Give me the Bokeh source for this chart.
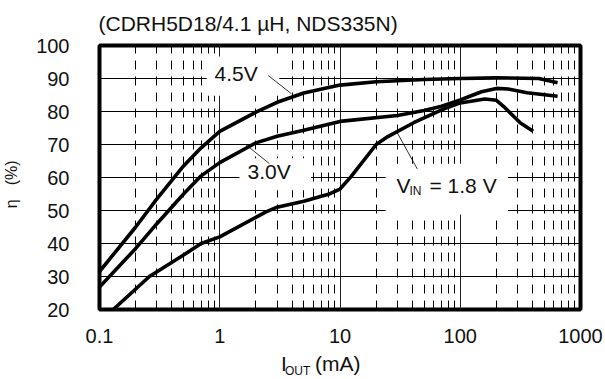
from bokeh.plotting import figure
from bokeh.models import FixedTicker, Label, BoxAnnotation, Range1d, LogAxis, LinearAxis
from bokeh.embed import file_html
from bokeh.resources import INLINE

# ---- data ----
x_ticks = [0.1, 1, 10, 100, 1000]
x_tick_labels = ["0.1", "1", "10", "100", "1000"]
x_minor = [m * d for d in (0.1, 1, 10, 100) for m in range(2, 10)]
y_ticks = [20, 30, 40, 50, 60, 70, 80, 90, 100]

vin45_x = [0.1, 0.2, 0.3, 0.5, 0.7, 1, 2, 3, 5, 10, 20, 50, 100, 200, 450, 645]
vin45_y = [31.5, 45, 53.5, 63.5, 69, 74, 79.8, 82.8, 85.6, 88, 89, 89.7, 90, 90.2, 90, 88.7]

vin30_x = [0.1, 0.2, 0.3, 0.5, 0.7, 1, 2, 3, 5, 10, 30, 50, 70, 100, 150, 200, 250, 360, 645]
vin30_y = [26.8, 38.5, 46, 55, 60.5, 64.5, 70.5, 72.5, 74.3, 77, 78.8, 80.3, 81.6, 83.5, 86, 87, 86.8, 85.7, 84.6]

vin18_x = [0.1, 0.13, 0.26, 0.5, 0.7, 1, 2.4, 3, 5, 8, 10, 12.3, 20, 25, 41, 70, 100, 160, 200, 230, 317, 404]
vin18_y = [16.3, 20, 30, 36.5, 40, 42, 49.5, 51, 52.8, 54.9, 56.5, 60.2, 70, 72.4, 76.6, 80.5, 82.6, 83.8, 83.4, 81.5, 76.5, 74]

# axis-title pieces, placed along the axes (x in mA, y in %)
xtitle_big = {3.42: "I", 9.6: "(mA)"}
ytitle = {61.4: "(%)", 52.0: "\u03b7"}

# annotation text and leader lines (data coordinates)
curve_labels = ["4.5V", "3.0V"]
leader_x0 = [2.53, 1.64, 30.0]
leader_y0 = [90.9, 70.0, 73.5]
leader_x1 = [3.94, 2.59, 43.9]
leader_y1 = [85.4, 64.2, 62.6]

FONT = "Liberation Sans"
INK = "#111111"

p = figure(width=605, height=379, x_axis_type="log",
           x_range=Range1d(0.1, 1000), y_range=Range1d(20, 100),
           output_backend="svg", toolbar_location=None,
           min_border_left=97, min_border_right=24,
           min_border_top=45, min_border_bottom=70)
p.background_fill_color = "white"
p.border_fill_color = "white"
p.outline_line_color = "black"
p.outline_line_width = 4

p.title.text = "(CDRH5D18/4.1 \u00b5H, NDS335N)"
p.title.text_font = FONT
p.title.text_font_size = "21px"
p.title.text_font_style = "normal"
p.title.text_color = INK
p.title.align = "left"
p.title.vertical_align = "top"
p.title.offset = -1
p.title.standoff = 17

xt = FixedTicker(ticks=x_ticks, minor_ticks=x_minor)
yt = FixedTicker(ticks=y_ticks)
p.xaxis.ticker = xt
p.yaxis.ticker = yt
p.xaxis.major_label_overrides = {t: s for t, s in zip(x_ticks, x_tick_labels)}


def plain(ax, size, standoff, style="normal"):
    ax.axis_line_color = None
    ax.major_tick_line_color = None
    ax.minor_tick_line_color = None
    ax.major_tick_out = 0
    ax.major_tick_in = 0
    ax.minor_tick_out = 0
    ax.minor_tick_in = 0
    ax.major_label_text_font = FONT
    ax.major_label_text_font_size = size
    ax.major_label_text_font_style = style
    ax.major_label_text_color = INK
    ax.major_label_standoff = standoff


plain(p.xaxis[0], "20px", 19)
plain(p.yaxis[0], "20px", 30)

# x axis title: I_OUT (mA)
ax_big = LogAxis(ticker=FixedTicker(ticks=list(xtitle_big)), major_label_overrides=xtitle_big)
plain(ax_big, "21px", 6)
p.add_layout(ax_big, "below")
p.add_layout(Label(x=-295.5, y=-61.5, x_units="screen", y_units="screen", text="OUT",
                   text_font=FONT, text_font_size="12px", text_color=INK,
                   text_align="left", text_baseline="middle"), "right")

# y axis title: eta (%)
ax_y = LinearAxis(ticker=FixedTicker(ticks=list(ytitle)), major_label_overrides=ytitle,
                  major_label_orientation="vertical")
plain(ax_y, "16px", 13)
p.add_layout(ax_y, "left")

p.xgrid.ticker = xt
p.xgrid.grid_line_color = "#222222"
p.xgrid.grid_line_width = 1
p.xgrid.minor_grid_line_color = "black"
p.xgrid.minor_grid_line_width = 1
p.xgrid.minor_grid_line_dash = "9 7"
p.ygrid.ticker = yt
p.ygrid.grid_line_color = "black"
p.ygrid.grid_line_width = 1

# white boxes behind the in-plot labels (gaps in the grid)
for (l, r, b, t) in [(0.78, 3.13, 84.8, 96.7), (1.46, 5.75, 56.1, 65.8), (24.0, 249, 48.8, 64.2)]:
    p.add_layout(BoxAnnotation(left=l, right=r, bottom=b, top=t, fill_color="white",
                               fill_alpha=1, line_color=None, level="underlay"))

# curves
for xs, ys in [(vin45_x, vin45_y), (vin30_x, vin30_y), (vin18_x, vin18_y)]:
    p.line(xs, ys, line_width=3.6, line_color="black", line_join="round")

# leader lines
p.segment(leader_x0, leader_y0, leader_x1, leader_y1, line_color="black", line_width=0.8)


def lab(text, x, y, size="21px"):
    p.add_layout(Label(x=x, y=y, x_units="screen", y_units="screen", text=text,
                       text_font=FONT, text_font_size=size, text_color=INK,
                       text_align="left", text_baseline="middle"))


# in-plot labels (screen units relative to the frame: origin bottom-left)
lab(curve_labels[0], 115, 236)
lab(curve_labels[1], 148, 138)
lab("V", 297, 124)
lab("IN", 310, 119, size="12px")
lab("= 1.8 V", 330, 124)

open("out.html", "w").write(file_html(p, INLINE))
